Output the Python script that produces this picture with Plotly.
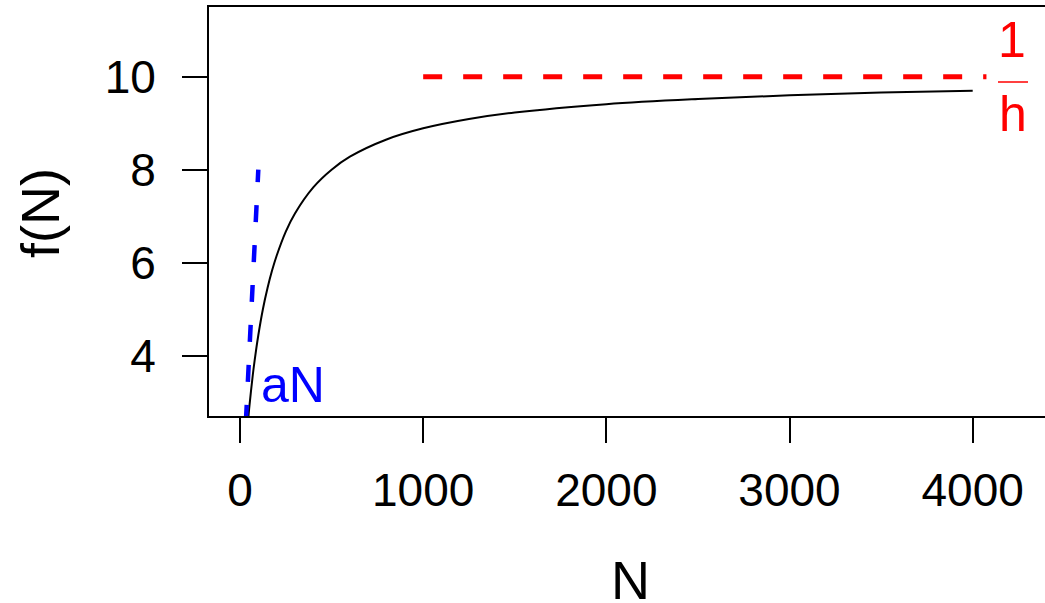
import plotly.graph_objects as go

# Curve f(N)
N_curve = [40, 50, 60, 70, 80, 100, 125, 150, 175, 200, 250, 300, 400, 500, 600,
           800, 1000, 1250, 1500, 2000, 2500, 3000, 3500, 4000]
f_curve = [2.42, 2.86, 3.24, 3.59, 3.90, 4.44, 5.00, 5.45, 5.83, 6.15, 6.67, 7.06,
           7.62, 8.00, 8.28, 8.65, 8.89, 9.09, 9.23, 9.41, 9.52, 9.60, 9.66, 9.70]

# Initial slope line aN
N_lin = [0, 100]
aN_lin = [0, 8]

# Asymptote 1/h
N_asym = [1000, 4075]
asym = [10, 10]

x_ticks = [0, 1000, 2000, 3000, 4000]
y_ticks = [4, 6, 8, 10]

FONT = "Liberation Sans, Arial, Helvetica, sans-serif"

fig = go.Figure()
fig.add_trace(go.Scatter(x=N_curve, y=f_curve, mode="lines", line_shape="spline",
                         line=dict(color="black", width=2), hoverinfo="skip"))
fig.add_trace(go.Scatter(x=N_lin, y=aN_lin, mode="lines",
                         line=dict(color="#0000ff", width=4.5, dash="17px,23px"), hoverinfo="skip"))
fig.add_trace(go.Scatter(x=N_asym, y=asym, mode="lines",
                         line=dict(color="#ff0000", width=5, dash="19px,21px"), hoverinfo="skip"))

fig.update_layout(
    width=1045, height=603,
    margin=dict(l=209, r=0, t=7, b=187),
    paper_bgcolor="white", plot_bgcolor="white",
    showlegend=False,
    font=dict(family=FONT, color="black"),
)
fig.update_xaxes(range=[-169.2, 4394.7], tickvals=x_ticks, ticktext=[str(v) for v in x_ticks],
                 ticks="outside", ticklen=25, tickwidth=2, tickcolor="black",
                 showline=True, linecolor="black", linewidth=2, mirror=True,
                 showgrid=False, zeroline=False, tickfont=dict(size=46, family=FONT),
                 ticklabelstandoff=8)
fig.update_yaxes(range=[2.703, 11.499], tickvals=y_ticks, ticktext=[str(v) for v in y_ticks],
                 ticks="outside", ticklen=25, tickwidth=2, tickcolor="black",
                 showline=True, linecolor="black", linewidth=2, mirror=False,
                 showgrid=False, zeroline=False, tickfont=dict(size=46, family=FONT),
                 ticklabelstandoff=17)

# Axis titles
fig.add_annotation(text="N", xref="paper", yref="paper", x=0.5036, y=-0.401,
                   xanchor="center", yanchor="middle", showarrow=False,
                   font=dict(size=54, family=FONT, color="black"))
fig.add_annotation(text="f(N)", xref="paper", yref="paper", x=-0.2022, y=0.4963,
                   xanchor="center", yanchor="middle", textangle=-90, showarrow=False,
                   font=dict(size=54, family=FONT, color="black"))

# Labels
fig.add_annotation(text="aN", x=105, y=3.37, xanchor="left", yanchor="middle",
                   showarrow=False, font=dict(size=50, family=FONT, color="#0000ff"))
fig.add_annotation(text="1", x=4214, y=10.8, xanchor="center", yanchor="middle",
                   showarrow=False, font=dict(size=50, family=FONT, color="#ff0000"))
fig.add_annotation(text="h", x=4220, y=9.2, xanchor="center", yanchor="middle",
                   showarrow=False, font=dict(size=50, family=FONT, color="#ff0000"))
fig.add_shape(type="line", x0=4138, x1=4302, y0=9.886, y1=9.886,
              line=dict(color="#ff0000", width=1.5))

fig.write_html("out.html", config={"displayModeBar": False},
               post_script="document.body.style.margin='0px';document.body.style.overflow='hidden';")
